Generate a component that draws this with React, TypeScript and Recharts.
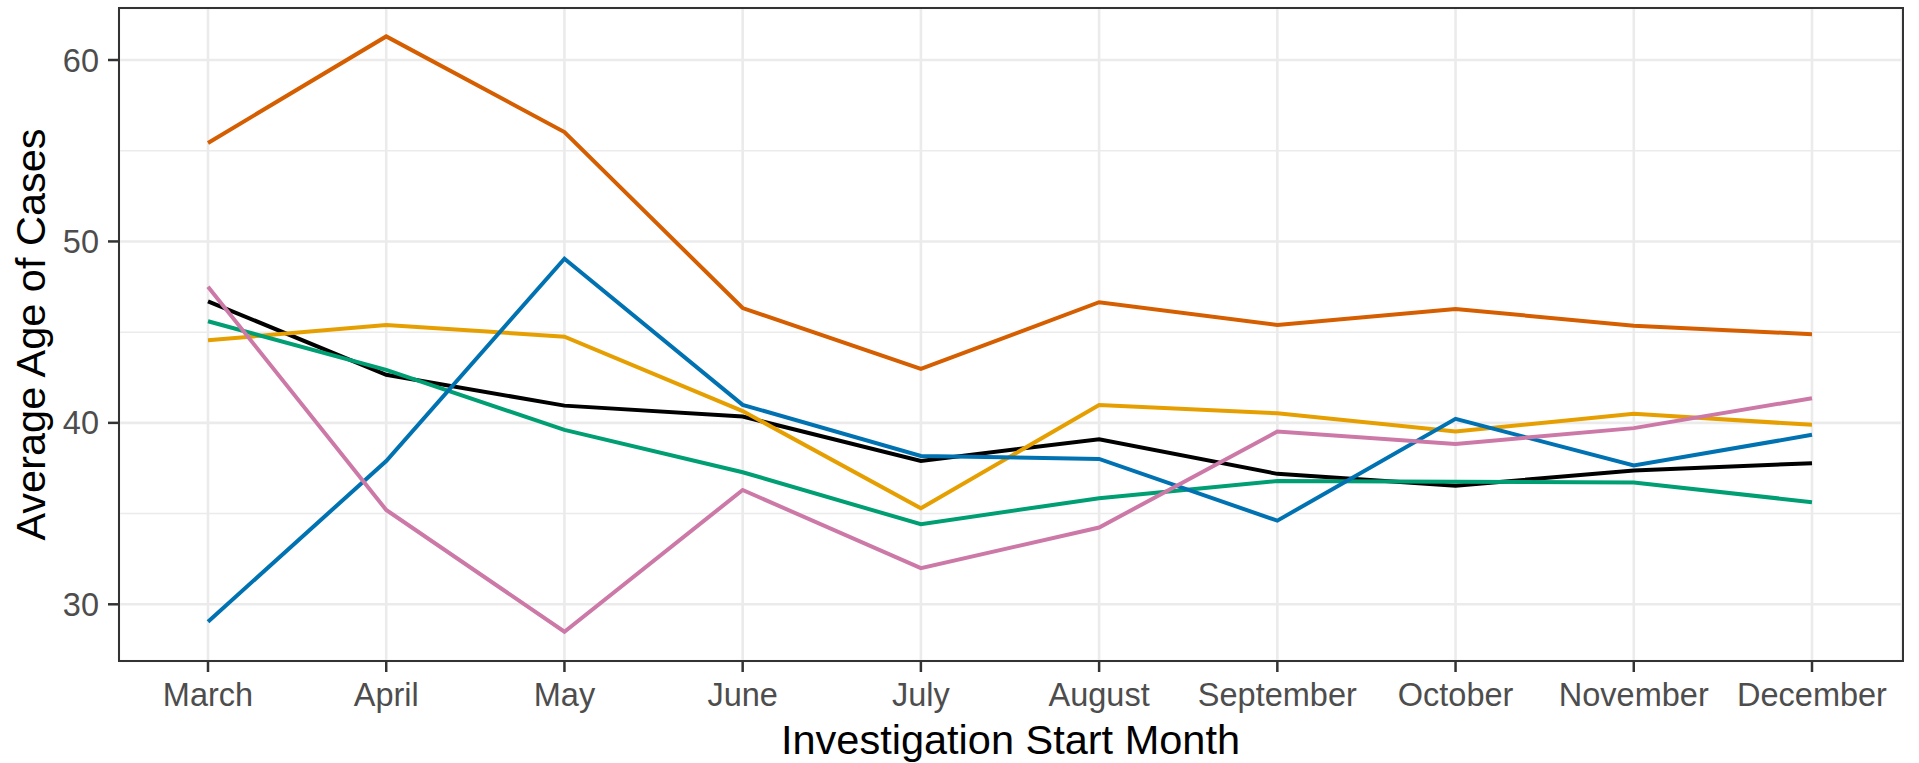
import { LineChart, Line, XAxis, YAxis, CartesianGrid, Label } from 'recharts';

const FONT = '"Liberation Sans", Arial, sans-serif';

// months on the x axis
const MONTHS = ['March', 'April', 'May', 'June', 'July', 'August', 'September', 'October', 'November', 'December'];

// average age per group
const BLACK = [46.7, 42.65, 40.95, 40.35, 37.9, 39.1, 37.19, 36.54, 37.37, 37.78];
const ORANGE = [44.55, 45.4, 44.75, 40.65, 35.29, 40.99, 40.53, 39.52, 40.5, 39.89];
const GREEN = [45.6, 42.92, 39.61, 37.28, 34.41, 35.85, 36.8, 36.76, 36.71, 35.63];
const BLUE = [29.04, 37.9, 49.05, 40.99, 38.18, 38.01, 34.61, 40.22, 37.65, 39.34];
const VERMILLION = [55.43, 61.3, 56.03, 46.33, 42.97, 46.65, 45.4, 46.28, 45.35, 44.89];
const PINK = [47.5, 35.2, 28.49, 36.3, 31.99, 34.23, 39.52, 38.84, 39.71, 41.36];

const Y_TICKS = [30, 40, 50, 60];
const Y_MINOR = [35, 45, 55];
const Y_DOMAIN: [number, number] = [26.875, 62.866];

const SERIES = [
  { key: 'black', values: BLACK, color: '#000000' },
  { key: 'orange', values: ORANGE, color: '#E69F00' },
  { key: 'green', values: GREEN, color: '#009E73' },
  { key: 'blue', values: BLUE, color: '#0072B2' },
  { key: 'vermillion', values: VERMILLION, color: '#D55E00' },
  { key: 'pink', values: PINK, color: '#CC79A7' },
];

const data = MONTHS.map((month, i) => {
  const row: Record<string, string | number> = { month };
  SERIES.forEach((s) => {
    row[s.key] = s.values[i];
  });
  return row;
});

const XTitle = (props: any) => {
  const vb = props.viewBox ?? { x: 119, y: 661, width: 1783, height: 102 };
  return (
    <text x={vb.x + vb.width / 2} y={vb.y + vb.height - 9} textAnchor="middle" fontSize={41.5} fill="#000" fontFamily={FONT}>
      Investigation Start Month
    </text>
  );
};

const YTitle = (props: any) => {
  const vb = props.viewBox ?? { x: 0, y: 8, width: 119, height: 653 };
  const x = vb.x + 45;
  const y = vb.y + vb.height / 2;
  return (
    <text x={x} y={y} transform={`rotate(-90, ${x}, ${y})`} textAnchor="middle" fontSize={41.5} fill="#000" fontFamily={FONT}>
      Average Age of Cases
    </text>
  );
};

// minor horizontal grid lines, placed through the y scale (or the plot area if no scale)
const minorGrid = (props: any) => {
  const scale = props?.yAxis?.scale;
  if (typeof scale === 'function') return Y_MINOR.map((v) => scale(v));
  const off = props?.offset;
  if (!off) return [];
  const [lo, hi] = Y_DOMAIN;
  return Y_MINOR.map((v) => off.top + ((hi - v) / (hi - lo)) * off.height);
};

const tickStyle = { fill: '#4d4d4d', fontSize: 32.5, fontFamily: FONT };
const tickLineStyle = { stroke: '#333333', strokeWidth: 2.5 };

export default function App() {
  return (
    <div style={{ position: 'absolute', left: 0, top: 0, width: 1919, height: 763, background: '#fff' }}>
      <LineChart width={1919} height={763} data={data} margin={{ top: 8, right: 17, bottom: 0, left: 0 }}>
        <CartesianGrid stroke="#ebebeb" strokeWidth={1.5} vertical={false} horizontalCoordinatesGenerator={minorGrid} />
        <CartesianGrid stroke="#ebebeb" strokeWidth={2.6} />
        <XAxis
          dataKey="month"
          type="category"
          interval={0}
          padding={{ left: 89, right: 90 }}
          height={102}
          tickSize={11}
          tickMargin={11}
          tick={tickStyle}
          tickLine={tickLineStyle}
          axisLine={false}
          label={<Label content={XTitle} />}
        />
        <YAxis
          type="number"
          domain={Y_DOMAIN}
          ticks={Y_TICKS}
          allowDataOverflow
          width={119}
          tickSize={11}
          tickMargin={9}
          tick={tickStyle}
          tickLine={tickLineStyle}
          axisLine={false}
          label={<Label content={YTitle} />}
        />
        {SERIES.map((s) => (
          <Line
            key={s.key}
            dataKey={s.key}
            stroke={s.color}
            strokeWidth={4}
            dot={false}
            activeDot={false}
            isAnimationActive={false}
          />
        ))}
      </LineChart>
      {/* panel border */}
      <div
        style={{
          position: 'absolute',
          left: 117.75,
          top: 6.75,
          width: 1786.5,
          height: 655.5,
          border: '2.5px solid #333333',
          boxSizing: 'border-box',
          pointerEvents: 'none',
        }}
      />
    </div>
  );
}
